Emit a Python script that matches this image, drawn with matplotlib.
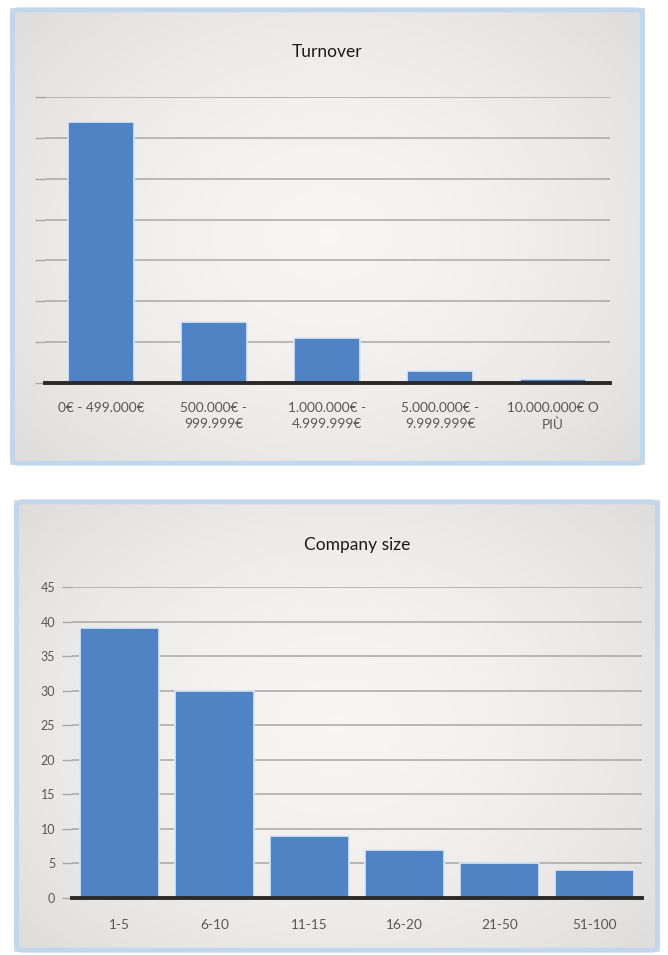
import numpy as np
import matplotlib.pyplot as plt
from matplotlib.patches import FancyBboxPatch

# dati
turnover_labels = ['0€ - 499.000€', '500.000€ -\n999.999€', '1.000.000€ -\n4.999.999€',
                   '5.000.000€ -\n9.999.999€', '10.000.000€ O\nPIÙ']
turnover_values = [64, 15, 11, 3, 1]

size_labels = ['1-5', '6-10', '11-15', '16-20', '21-50', '51-100']
size_values = [39, 30, 9, 7, 5, 4]

W, H = 668, 955
fig = plt.figure(figsize=(W / 100, H / 100), dpi=100)
plt.rcParams['font.family'] = ['Lato', 'DejaVu Sans']

bar_col = '#4f83c3'
grid_col = '#a8a8a8'
txt_col = '#585858'


def px(x0, y0, x1, y1):
    # rettangolo in pixel -> coordinate figura
    return [x0 / W, 1 - y1 / H, (x1 - x0) / W, (y1 - y0) / H]


def pannello(x0, y0, x1, y1):
    # sfondo sfumato chiaro con bordo azzurro
    bg = fig.add_axes(px(x0, y0, x1, y1), zorder=0)
    yy, xx = np.mgrid[-1:1:200j, -1:1:200j]
    r = np.clip(np.sqrt(0.55 * xx**2 + 0.45 * yy**2), 0, 1)
    g = 0.965 - 0.10 * r**1.6
    img = np.dstack([g + 0.005, g, g - 0.005])
    bg.imshow(np.clip(img, 0, 1), aspect='auto', extent=[0, 1, 0, 1],
              interpolation='bilinear')
    bg.set_xlim(0, 1)
    bg.set_ylim(0, 1)
    bg.axis('off')
    bg.add_patch(FancyBboxPatch((0.004, 0.004), 0.992, 0.992,
                                boxstyle='round,pad=0,rounding_size=0.01',
                                transform=bg.transAxes, fill=False,
                                ec='#c2d7ee', lw=3.5, clip_on=False))


def grafico(rect, labels, values, ymax, step, title, title_y, width, show_y, pad):
    ax = fig.add_axes(rect, zorder=1)
    ax.patch.set_alpha(0)
    x = np.arange(len(labels))
    ax.bar(x, values, width=width, color=bar_col, edgecolor='#dbe8f6',
           linewidth=1.2, zorder=3)
    ax.set_xlim(-0.5, len(labels) - 0.5)
    ax.set_ylim(0, ymax)
    ax.set_yticks(np.arange(0, ymax + 0.1, step))
    ax.yaxis.grid(True, color=grid_col, lw=1.1, zorder=0)
    ax.set_axisbelow(True)
    for s in ['top', 'right', 'left']:
        ax.spines[s].set_visible(False)
    ax.spines['bottom'].set_color('#2a2a2a')
    ax.spines['bottom'].set_linewidth(2.8)
    ax.spines['bottom'].set_zorder(4)
    ax.set_xticks(x)
    ax.set_xticklabels(labels, fontsize=9.8, color=txt_col, linespacing=1.35)
    ax.tick_params(axis='x', length=0, pad=pad)
    ax.tick_params(axis='y', length=7, color=grid_col, width=1, direction='out',
                   labelsize=9, labelcolor=txt_col, pad=5)
    if not show_y:
        ax.set_yticklabels([])
    fig.text(ax.get_position().x0 + ax.get_position().width / 2, title_y, title,
             ha='center', va='center', fontsize=12.5, color='#1a1a1a')
    return ax


pannello(10, 8, 645, 465)
pannello(14, 500, 660, 952)

grafico(px(44.5, 97, 609.5, 383), turnover_labels, turnover_values, 70, 10,
        'Turnover', 1 - 52 / H, 0.59, False, 14)
grafico(px(72, 587, 642, 898), size_labels, size_values, 45, 5,
        'Company size', 1 - 545 / H, 0.84, True, 15)

fig.savefig('out.png', dpi=100, facecolor='white')
